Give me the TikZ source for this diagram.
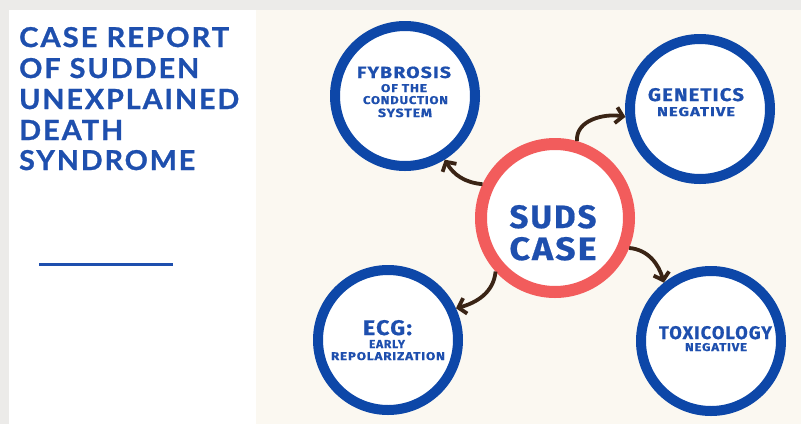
\documentclass[tikz,border=0pt]{standalone}
\usepackage{fontspec}
\usepackage{graphicx}
\setmainfont{Lato}
\newfontfamily\titlefont{Lato}[LetterSpace=7,BoldFeatures={FakeBold=1}]
\newfontfamily\circfont{Fira Sans}[LetterSpace=6,BoldFeatures={FakeBold=0.6}]
\usetikzlibrary{arrows.meta}
\definecolor{bggray}{HTML}{ECEBE9}
\definecolor{beige}{HTML}{FBF8F1}
\definecolor{ringblue}{HTML}{0D47A8}
\definecolor{txtblue}{HTML}{1E4FAE}
\definecolor{ringred}{HTML}{F25C5C}
\definecolor{arrbrown}{HTML}{3A2415}
\newcommand{\fitbox}[3]{\resizebox{#1pt}{#2pt}{#3}}
\tikzset{
  bluering/.style={circle, draw=ringblue, line width=10pt, fill=white, minimum size=140pt, inner sep=0pt},
  redring/.style={circle, draw=ringred, line width=12pt, fill=white, minimum size=148pt, inner sep=0pt},
  conn/.style={draw=arrbrown, line width=3.8pt, -{Straight Barb[length=7pt,width=16pt,line width=3.8pt]}},
  ttl/.style={anchor=base west, inner sep=0pt, text=txtblue, font=\titlefont\bfseries\fontsize{28}{28}\selectfont},
  ctxt/.style={anchor=base, inner sep=0pt, text=txtblue, font=\circfont\bfseries\fontsize{20}{20}\selectfont},
}
\begin{document}
\begin{tikzpicture}[x=1pt,y=-1pt]
\useasboundingbox (0,0) rectangle (801,424);
\fill[bggray] (0,0) rectangle (801,424);
\fill[white] (9,10) rectangle (256,424);
\fill[beige] (256,10) rectangle (801,424);
% title
\node[ttl] (t1) at (19,47) {\fitbox{210}{20}{CASE REPORT}};
\node[ttl] (t2) at (19,78) {\fitbox{180}{20}{OF SUDDEN}};
\node[ttl] (t3) at (19,109) {\fitbox{220}{20}{UNEXPLAINED}};
\node[ttl] (t4) at (19,140) {\fitbox{104}{20}{DEATH}};
\node[ttl] (t5) at (19,170) {\fitbox{176}{20}{SYNDROME}};
\coordinate (la) at (39,264);
\coordinate (lb) at (173,264);
\draw[txtblue, line width=3pt] (la) -- (lb);
% circles
\node[redring] (suds) at (555,218) {};
\node[bluering] (fyb) at (405,96) {};
\node[bluering] (gen) at (700,109) {};
\node[bluering] (ecg) at (388,340) {};
\node[bluering] (tox) at (711,341) {};
% texts
\node[ctxt] (s1) at (553,228) {\fitbox{87}{23}{SUDS}};
\node[ctxt] (s2) at (553,260) {\fitbox{87}{23}{CASE}};
\node[ctxt] (f1) at (404,78) {\fitbox{94}{11.5}{FYBROSIS}};
\node[ctxt] (f2) at (404,92) {\fitbox{46}{8}{OF THE}};
\node[ctxt] (f3) at (405.5,104) {\fitbox{85}{8}{CONDUCTION}};
\node[ctxt] (f4) at (405,117) {\fitbox{54}{8.5}{SYSTEM}};
\node[ctxt] (g1) at (696,101) {\fitbox{96}{13}{GENETICS}};
\node[ctxt] (g2) at (696,116) {\fitbox{78}{9}{NEGATIVE}};
\node[ctxt] (e1) at (387.5,335) {\fitbox{49}{15}{ECG:}};
\node[ctxt] (e2) at (387,348) {\fitbox{36}{8}{EARLY}};
\node[ctxt] (e3) at (388,360) {\fitbox{114}{8}{REPOLARIZATION}};
\node[ctxt] (x1) at (715.5,339) {\fitbox{113}{13}{TOXICOLOGY}};
\node[ctxt] (x2) at (716,351) {\fitbox{62}{8}{NEGATIVE}};
% arrows
\draw[conn] (suds.155) to[out=175,in=-60] (fyb.302);
\draw[conn] (suds.74) to[out=95,in=170] (gen.186);
\draw[conn] (suds.-22) to[out=-5,in=105] (tox.129);
\draw[conn] (suds.222) to[out=-95,in=15] (ecg.25);
\end{tikzpicture}
\end{document}
